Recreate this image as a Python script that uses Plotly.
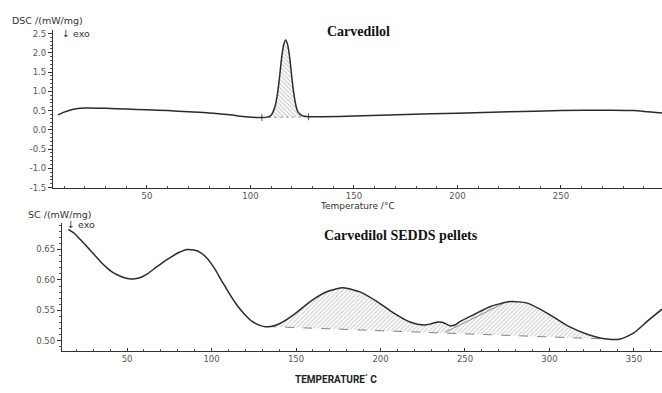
import plotly.graph_objects as go

W, H = 662, 393

# ---- Top panel: Carvedilol ----
top_temp = [7, 10, 14, 20, 30, 40, 50, 60, 70, 80, 90, 98, 104, 108, 110, 111, 112, 113, 114, 115, 116, 117,
            118, 119, 120, 121, 122, 123, 125, 128, 135, 150, 175, 200, 225, 250, 275, 285, 292, 299]
top_dsc = [0.39, 0.46, 0.53, 0.566, 0.56, 0.54, 0.52, 0.50, 0.47, 0.44, 0.39, 0.34, 0.32, 0.33, 0.38, 0.48, 0.64,
           0.92, 1.35, 1.85, 2.20, 2.33, 2.20, 1.85, 1.35, 0.92, 0.62, 0.46, 0.37, 0.34, 0.34, 0.36, 0.40, 0.43,
           0.47, 0.50, 0.51, 0.50, 0.47, 0.44]
top_base_temp = [105.5, 128]
top_base_val = [0.32, 0.34]
top_xticks = [50, 100, 150, 200, 250]
top_yticks = [-1.5, -1.0, -0.5, 0.0, 0.5, 1.0, 1.5, 2.0, 2.5]
top_yticktext = ["-1.5", "-1.0", "-0.5", "0.0", "0.5", "1.0", "1.5", "2.0", "2.5"]

# ---- Bottom panel: Carvedilol SEDDS pellets ----
bot_temp = [15.2, 18.5, 22.5, 26.5, 30.4, 34.3, 38.3, 41.5, 44.2, 47.5, 51.1, 54.5, 58, 62, 65.9, 70.8, 75.7,
            80.6, 85.6, 89.5, 93.5, 96.5, 99.4, 102.4, 105.3, 108.3, 111.2, 115.2, 119.1, 124, 129, 131.9, 134.9,
            140.8, 148.7, 158.6, 168.5, 177.9, 188.2, 198, 207.9, 217.8, 225.6, 230, 234, 237, 241, 244, 247.3,
            255.2, 265.1, 276.9, 286.8, 298.6, 310.5, 322.3, 334.1, 342, 349.9, 357.8, 366.6]
bot_dsc = [0.683, 0.677, 0.666, 0.654, 0.642, 0.630, 0.6195, 0.6125, 0.6085, 0.6045, 0.6018, 0.6020, 0.604, 0.610,
           0.618, 0.628, 0.637, 0.645, 0.650, 0.649, 0.645, 0.638, 0.6285, 0.616, 0.6016, 0.588, 0.5747, 0.558,
           0.545, 0.532, 0.525, 0.5232, 0.5237, 0.529, 0.543, 0.565, 0.581, 0.587, 0.580, 0.5645, 0.5457,
           0.5305, 0.526, 0.528, 0.531, 0.530, 0.525, 0.526, 0.532, 0.543, 0.5565, 0.5645, 0.562, 0.5457,
           0.525, 0.511, 0.503, 0.503, 0.513, 0.532, 0.552]
bot_base_temp = [133, 334.1]
bot_base_val = [0.5235, 0.503]
bot_tangent_temp = [238.5, 255, 272.9]
bot_tangent_val = [0.5145, 0.537, 0.562]
bot_xticks = [50, 100, 150, 200, 250, 300, 350]
bot_yticks = [0.50, 0.55, 0.60, 0.65]

CURVE = "#2b2b2b"
TICKFONT = dict(family="DejaVu Sans", size=8.5, color="#555555")


def region(temps, vals, t0, t1, b0, b1):
    xs, ys = [t0], [b0]
    for t, v in zip(temps, vals):
        if t0 < t < t1:
            xs.append(t)
            ys.append(v)
    xs.append(t1)
    ys.append(b1)
    return xs, ys


fig = go.Figure()

# top hatched area
hx, hy = region(top_temp, top_dsc, top_base_temp[0], top_base_temp[1], top_base_val[0], top_base_val[1])
fig.add_trace(go.Scatter(x=hx, y=hy, fill="toself", mode="none", line_shape="spline",
                         fillcolor="rgba(255,255,255,0)",
                         fillpattern=dict(shape="\\", fgcolor="#777777", bgcolor="rgba(255,255,255,0)",
                                          size=3, solidity=0.3),
                         xaxis="x", yaxis="y", showlegend=False, hoverinfo="skip"))
fig.add_trace(go.Scatter(x=top_base_temp, y=top_base_val, mode="lines+markers",
                         line=dict(color="#888888", width=0.8, dash="dot"),
                         marker=dict(symbol="line-ns-open", size=5, color="#555555", line=dict(width=1)),
                         xaxis="x", yaxis="y", showlegend=False))
fig.add_trace(go.Scatter(x=top_temp, y=top_dsc, mode="lines", line=dict(color=CURVE, width=1.5, shape="spline",
                                                                          smoothing=0.6),
                         xaxis="x", yaxis="y", showlegend=False))

# bottom hatched area
bx, by = region(bot_temp, bot_dsc, bot_base_temp[0], bot_base_temp[1], bot_base_val[0], bot_base_val[1])
fig.add_trace(go.Scatter(x=bx, y=by, fill="toself", mode="none", line_shape="spline",
                         fillcolor="rgba(255,255,255,0)",
                         fillpattern=dict(shape="/", fgcolor="#9a9a9a", bgcolor="rgba(255,255,255,0)",
                                          size=3, solidity=0.35),
                         xaxis="x2", yaxis="y2", showlegend=False, hoverinfo="skip"))
fig.add_trace(go.Scatter(x=bot_base_temp, y=bot_base_val, mode="lines",
                         line=dict(color="#777777", width=0.9, dash="dash"),
                         xaxis="x2", yaxis="y2", showlegend=False))
fig.add_trace(go.Scatter(x=bot_tangent_temp, y=bot_tangent_val, mode="lines",
                         line=dict(color="#8a8a8a", width=1, shape="spline"),
                         xaxis="x2", yaxis="y2", showlegend=False))
fig.add_trace(go.Scatter(x=bot_temp, y=bot_dsc, mode="lines", line=dict(color=CURVE, width=1.5, shape="spline",
                                                                          smoothing=0.6),
                         xaxis="x2", yaxis="y2", showlegend=False))


def px(x):
    return x / W


def py(y):
    return 1 - y / H


xcommon = dict(showline=True, linecolor="#333333", linewidth=1.2, showgrid=False, zeroline=False,
               ticks="inside", ticklen=3, tickcolor="#333333", tickfont=TICKFONT, ticklabelstandoff=0,
               minor=dict(ticks="inside", ticklen=2, dtick=10, tickcolor="#555555"), fixedrange=True)
ycommon = dict(showline=True, linecolor="#333333", linewidth=1.2, showgrid=False, zeroline=False,
               ticks="outside", ticklen=4, tickcolor="#333333", tickfont=TICKFONT, fixedrange=True)

fig.update_layout(
    width=W, height=H, margin=dict(l=0, r=0, t=0, b=0),
    paper_bgcolor="white", plot_bgcolor="white",
    xaxis=dict(domain=[px(53), 1], anchor="y", range=[4.6, 298.8], tickvals=top_xticks, **xcommon),
    yaxis=dict(domain=[py(189), py(29)], anchor="x", range=[-1.5, 2.58], tickvals=top_yticks,
               ticktext=top_yticktext, minor=dict(ticks="outside", ticklen=2, dtick=0.1, tickcolor="#555555"),
               **ycommon),
    xaxis2=dict(domain=[px(62), 1], anchor="y2", range=[11.5, 366.6], tickvals=bot_xticks, **xcommon),
    yaxis2=dict(domain=[py(355), py(225)], anchor="x2", range=[0.4839, 0.6935], tickvals=bot_yticks,
                tickformat=".2f", minor=dict(ticks="outside", ticklen=2, dtick=0.01, tickcolor="#555555"),
                **ycommon),
)

LBL = dict(family="DejaVu Sans", size=9.5, color="#333333")
ann = [
    dict(text="DSC /(mW/mg)", x=px(10), y=py(19), xanchor="left", font=LBL),
    dict(text="↓ exo", x=px(60), y=py(32), xanchor="left", font=LBL),
    dict(text="<b>Carvedilol</b>", x=px(358), y=py(30),
         font=dict(family="Liberation Serif", size=14, color="#111111")),
    dict(text="Temperature /°C", x=px(357), y=py(208), font=dict(family="DejaVu Sans", size=9, color="#333333")),
    dict(text="SC /(mW/mg)", x=px(26), y=py(216), xanchor="left", font=LBL),
    dict(text="↓ exo", x=px(65), y=py(227), xanchor="left", font=LBL),
    dict(text="<b>Carvedilol SEDDS pellets</b>", x=px(401), y=py(238),
         font=dict(family="Liberation Serif", size=14, color="#111111")),
    dict(text="<b>TEMPERATURE<sup>°</sup> C</b>", x=px(336), y=py(384),
         font=dict(family="Roboto", size=10, color="#222222")),
]
for a in ann:
    a.setdefault("xanchor", "center")
    fig.add_annotation(xref="paper", yref="paper", yanchor="middle", showarrow=False, **a)

fig.write_html("out.html")
